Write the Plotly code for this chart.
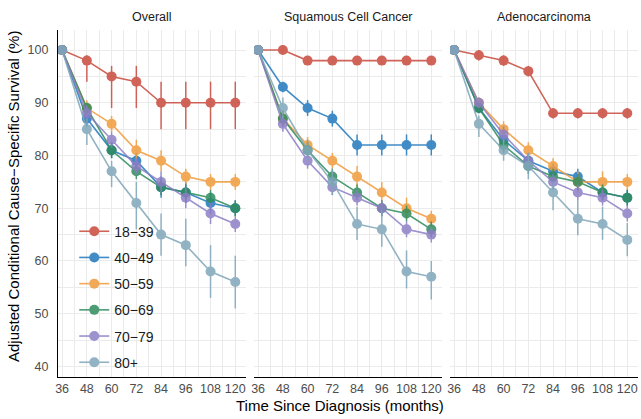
import plotly.graph_objects as go

months = [36, 48, 60, 72, 84, 96, 108, 120]
groups = ["18−39", "40−49", "50−59", "60−69", "70−79", "80+"]
panels = ["Overall", "Squamous Cell Cancer", "Adenocarcinoma"]
colors = ["#C94A3D", "#2179BD", "#F09C3C", "#2E8B5C", "#8C7EC6", "#7FA6B9"]

overall_mean = {
    "18−39": [100, 98, 95, 94, 90, 90, 90, 90],
    "40−49": [100, 87, 81, 79, 74, 73, 71, 70],
    "50−59": [100, 89, 86, 81, 79, 76, 75, 75],
    "60−69": [100, 89, 81, 77, 74, 73, 72, 70],
    "70−79": [100, 88, 83, 78, 75, 72, 69, 67],
    "80+": [100, 85, 77, 71, 65, 63, 58, 56],
}
overall_lower = {
    "18−39": [100, 94, 89, 89, 85, 85, 85, 85],
    "40−49": [100, 85.5, 79.5, 77.5, 72, 71, 69, 68.5],
    "50−59": [100, 87.5, 84.5, 79, 77, 74.5, 73.5, 73.5],
    "60−69": [100, 88, 79.5, 75.5, 72.5, 71.5, 70.5, 68.5],
    "70−79": [100, 86.5, 81.5, 76.5, 73, 70, 67, 65.5],
    "80+": [100, 82, 74, 66, 61, 59, 53, 51],
}
overall_upper = {
    "18−39": [100, 99, 97, 97, 94, 94, 94, 94],
    "40−49": [100, 88.5, 82.5, 80.5, 76, 75, 73, 71.5],
    "50−59": [100, 90.5, 87.5, 83, 81, 77.5, 76.5, 76.5],
    "60−69": [100, 90, 82.5, 78.5, 75.5, 74.5, 73.5, 71.5],
    "70−79": [100, 89.5, 84.5, 79.5, 77, 74, 71, 68.5],
    "80+": [100, 87, 79, 75, 69, 68, 63, 61],
}

squamous_mean = {
    "18−39": [100, 100, 98, 98, 98, 98, 98, 98],
    "40−49": [100, 93, 89, 87, 82, 82, 82, 82],
    "50−59": [100, 87, 82, 79, 76, 73, 70, 68],
    "60−69": [100, 87, 81, 76, 73, 70, 69, 66],
    "70−79": [100, 86, 79, 74, 72, 70, 66, 65],
    "80+": [100, 89, 81, 75, 67, 66, 58, 57],
}
squamous_lower = {
    "18−39": [100, 99.5, 97.5, 97.5, 97.5, 97.5, 97.5, 97.5],
    "40−49": [100, 92, 87.5, 85.5, 80, 80, 80, 80],
    "50−59": [100, 85.5, 80.5, 77.5, 74, 71, 68, 66.5],
    "60−69": [100, 85.5, 79.5, 74.5, 71.5, 68.5, 67.5, 64.5],
    "70−79": [100, 84.5, 77.5, 72.5, 70.5, 68.5, 64.5, 63.5],
    "80+": [100, 87, 79, 72.5, 64, 62.7, 54.8, 52.7],
}
squamous_upper = {
    "18−39": [100, 100, 98.5, 98.5, 98.5, 98.5, 98.5, 98.5],
    "40−49": [100, 94, 90.5, 88.5, 84, 84, 84, 84],
    "50−59": [100, 88.5, 83.5, 80.5, 78, 75, 72, 69.5],
    "60−69": [100, 88.5, 82.5, 77.5, 74.5, 71.5, 70.5, 67.5],
    "70−79": [100, 87.5, 80.5, 75.5, 73.5, 71.5, 67.5, 66.5],
    "80+": [100, 91, 83, 77.5, 70.3, 69.6, 62, 60],
}

adeno_mean = {
    "18−39": [100, 99, 98, 96, 88, 88, 88, 88],
    "40−49": [100, 89, 83, 79, 77, 76, 73, 72],
    "50−59": [100, 90, 85, 81, 78, 75, 75, 75],
    "60−69": [100, 89, 82, 78, 76, 75, 73, 72],
    "70−79": [100, 90, 84, 79, 75, 73, 72, 69],
    "80+": [100, 86, 81, 78, 73, 68, 67, 64],
}
adeno_lower = {
    "18−39": [100, 98, 97, 95, 87, 87, 87, 87],
    "40−49": [100, 88, 81.5, 77.5, 75.5, 74.5, 71.5, 70.5],
    "50−59": [100, 89, 83.5, 79.5, 76.5, 73, 73, 73.5],
    "60−69": [100, 88, 80.5, 76.5, 74.5, 73.5, 71.5, 70.5],
    "70−79": [100, 89, 82.5, 77.5, 73.5, 71.5, 70.5, 67.5],
    "80+": [100, 83.5, 79, 75.5, 69.6, 64.9, 64, 60.9],
}
adeno_upper = {
    "18−39": [100, 100, 99, 97, 89, 89, 89, 89],
    "40−49": [100, 90, 84.5, 80.5, 78.5, 77.5, 74.5, 73.5],
    "50−59": [100, 91, 86.5, 82.5, 79.5, 77, 77, 76.5],
    "60−69": [100, 90, 83.5, 79.5, 77.5, 76.5, 74.5, 73.5],
    "70−79": [100, 91, 85.5, 80.5, 76.5, 74.5, 73.5, 70.5],
    "80+": [100, 87.6, 83, 80.5, 75, 71.5, 70.3, 67.2],
}

panel_data = [
    (overall_mean, overall_lower, overall_upper),
    (squamous_mean, squamous_lower, squamous_upper),
    (adeno_mean, adeno_lower, adeno_upper),
]

FONT = "Liberation Sans, Arial, sans-serif"
fig = go.Figure()

for p, (means, lows, highs) in enumerate(panel_data):
    xa = "x" if p == 0 else f"x{p+1}"
    ya = "y" if p == 0 else f"y{p+1}"
    for g, col in zip(groups, colors):
        m = means[g]
        up = [h - v for h, v in zip(highs[g], m)]
        dn = [v - l for v, l in zip(m, lows[g])]
        fig.add_trace(go.Scatter(
            x=months, y=m, xaxis=xa, yaxis=ya,
            mode="lines+markers", name=g, legendgroup=g,
            showlegend=(p == 0),
            line=dict(color=col, width=1.6),
            marker=dict(color=col, size=10),
            opacity=0.85,
            error_y=dict(type="data", symmetric=False, array=up, arrayminus=dn,
                         color=col, thickness=1.5, width=0),
        ))

L, R, T, B = 58, 3, 30, 42
W, H = 641, 419
pw = W - L - R
ph = H - T - B
doms = [(0, 188 / pw), (196 / pw, 384 / pw), (392 / pw, 1)]

grid = "#EBEBEB"
layout = dict(
    width=W, height=H,
    margin=dict(l=L, r=R, t=T, b=B),
    paper_bgcolor="white", plot_bgcolor="white",
    font=dict(family=FONT, color="#000000"),
    showlegend=True,
    legend=dict(x=0.028, y=0.465, xanchor="left", yanchor="top",
                bgcolor="rgba(0,0,0,0)", font=dict(size=14, color="#1a1a1a"),
                tracegroupgap=5, itemwidth=30),
)
for p in range(3):
    k = "" if p == 0 else str(p + 1)
    layout["xaxis" + k] = dict(
        domain=doms[p], range=[34, 125.2], tickmode="array",
        tickvals=months, ticktext=[str(v) for v in months],
        showgrid=True, gridcolor=grid, gridwidth=1.2,
        minor=dict(tickvals=[42, 54, 66, 78, 90, 102, 114], showgrid=True,
                   gridcolor=grid, gridwidth=0.7),
        showline=True, linecolor="#000000", linewidth=1.1,
        zeroline=False, ticks="", anchor="y" + k,
        tickfont=dict(size=12.5, color="#4D4D4D", family=FONT),
        fixedrange=True,
    )
    layout["yaxis" + k] = dict(
        range=[38, 103.8], tickvals=[40, 50, 60, 70, 80, 90, 100],
        showticklabels=(p == 0),
        showgrid=True, gridcolor=grid, gridwidth=1.2,
        minor=dict(tickvals=[45, 55, 65, 75, 85, 95], showgrid=True,
                   gridcolor=grid, gridwidth=0.7),
        showline=(p == 0), linecolor="#000000", linewidth=1.1,
        zeroline=False, ticks="", anchor="x" + k,
        tickfont=dict(size=12.5, color="#4D4D4D", family=FONT),
        ticklabelstandoff=6, fixedrange=True,
    )
fig.update_layout(**layout)

annotations = []
for p, name in enumerate(panels):
    annotations.append(dict(text=name, x=(doms[p][0] + doms[p][1]) / 2, y=1,
                            xref="paper", yref="paper", yshift=13, showarrow=False,
                            xanchor="center", yanchor="middle",
                            font=dict(size=12.5, color="#1a1a1a", family=FONT)))
annotations.append(dict(text="Time Since Diagnosis (months)", x=(340 - L) / pw, y=0,
                        xref="paper", yref="paper", yshift=-28, showarrow=False,
                        xanchor="center", yanchor="middle",
                        font=dict(size=15, color="#000000", family=FONT)))
annotations.append(dict(text="Adjusted Conditional Cause−Specific Survival (%)",
                        x=0, y=1 - (197 - T) / ph, xref="paper", yref="paper",
                        xshift=-(L - 13), showarrow=False, textangle=-90,
                        xanchor="center", yanchor="middle",
                        font=dict(size=15, color="#000000", family=FONT)))
fig.update_layout(annotations=annotations)

fig.write_html("out.html", config={"displayModeBar": False},
               post_script="document.body.style.margin='0px';")
